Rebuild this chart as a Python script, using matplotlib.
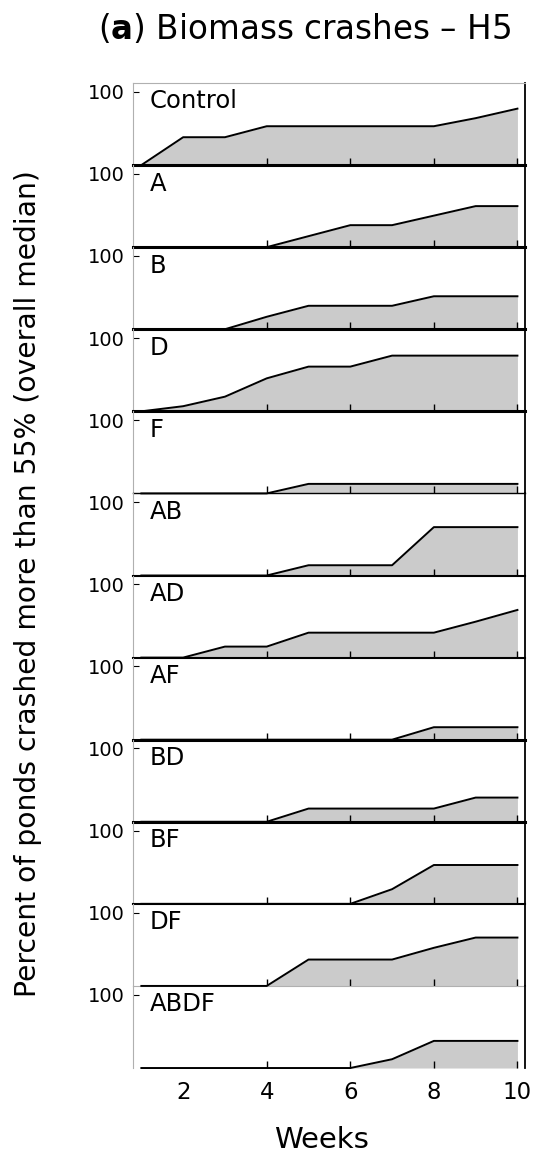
import matplotlib
matplotlib.use("Agg")
from matplotlib import pyplot as plt
import numpy as np

# Data: percent of ponds crashed, weeks 1..10
weeks = np.arange(1, 11)
treatments = ["Control", "A", "B", "D", "F", "AB", "AD", "AF", "BD", "BF", "DF", "ABDF"]
control = [0, 38, 38, 53, 53, 53, 53, 53, 64, 77]
a = [0, 0, 0, 0, 15, 30, 30, 43, 56, 56]
b = [0, 0, 0, 17, 32, 32, 32, 45, 45, 45]
d = [0, 7, 20, 45, 61, 61, 76, 76, 76, 76]
f = [0, 0, 0, 0, 13, 13, 13, 13, 13, 13]
ab = [0, 0, 0, 0, 14, 14, 14, 66, 66, 66]
ad = [0, 0, 15, 15, 34, 34, 34, 34, 49, 65]
af = [0, 0, 0, 0, 0, 0, 0, 17, 17, 17]
bd = [0, 0, 0, 0, 18, 18, 18, 18, 33, 33]
bf = [0, 0, 0, 0, 0, 0, 20, 53, 53, 53]
df = [0, 0, 0, 0, 36, 36, 36, 52, 66, 66]
abdf = [0, 0, 0, 0, 0, 0, 12, 37, 37, 37]
series = [control, a, b, d, f, ab, ad, af, bd, bf, df, abdf]
xticks = [2, 4, 6, 8, 10]

# bottom border look of each panel (as in the scanned figure)
bottom_lw = [2.2, 2.2, 2.2, 2.2, 1.0, 1.5, 1.5, 2.2, 2.2, 1.5, 0.8, 0]
bottom_col = ["black"] * 10 + ["#b0b0b0", "white"]

fig, axes = plt.subplots(12, 1, sharex=True, figsize=(5.44, 11.59), dpi=100,
                         gridspec_kw=dict(hspace=0, left=0.2445, right=0.965,
                                          top=0.9284, bottom=0.0785))

for i, ax in enumerate(axes):
    vals = series[i]
    ax.patch.set_alpha(0)
    ax.fill_between(weeks, 0, vals, color="#cbcbcb", lw=0)
    ax.plot(weeks, vals, color="black", lw=1.4, clip_on=False, zorder=3)
    ax.set_xlim(0.8, 10.18)
    ax.set_ylim(0, 112)
    ax.set_yticks([100])
    ax.set_yticklabels(["100"])
    ax.tick_params(axis="y", direction="in", length=4, width=0.8, labelsize=14, pad=6)
    ax.tick_params(axis="x", direction="in", length=5, width=1.0, labelsize=16.5, pad=9)
    ax.text(0.042, 0.775, treatments[i], transform=ax.transAxes,
            ha="left", va="center", fontsize=17.5)
    ax.spines["left"].set_color("#b0b0b0")
    ax.spines["left"].set_linewidth(0.8)
    ax.spines["right"].set_color("black")
    ax.spines["right"].set_linewidth(1.3)
    ax.spines["bottom"].set_linewidth(bottom_lw[i])
    ax.spines["bottom"].set_color(bottom_col[i])
    if i == 0:
        ax.spines["top"].set_color("#b0b0b0")
        ax.spines["top"].set_linewidth(0.8)
    else:
        ax.spines["top"].set_visible(False)
    if i == len(axes) - 1:
        ax.spines["bottom"].set_visible(False)

axes[-1].set_xticks(xticks)
axes[-1].set_xticklabels([str(t) for t in xticks])
for ax in axes:
    ax.xaxis.get_major_ticks()[0].tick1line.set_visible(False)

fig.text(0.56, 0.975, r"($\mathbf{a}$) Biomass crashes – H5", ha="center", va="center",
         fontsize=23.5)
fig.text(0.0515, 0.4966, "Percent of ponds crashed more than 55% (overall median)",
         rotation=90, ha="center", va="center", fontsize=20.3)
fig.text(0.591, 0.0164, "Weeks", ha="center", va="center", fontsize=21)

fig.savefig("out.png", dpi=100)
